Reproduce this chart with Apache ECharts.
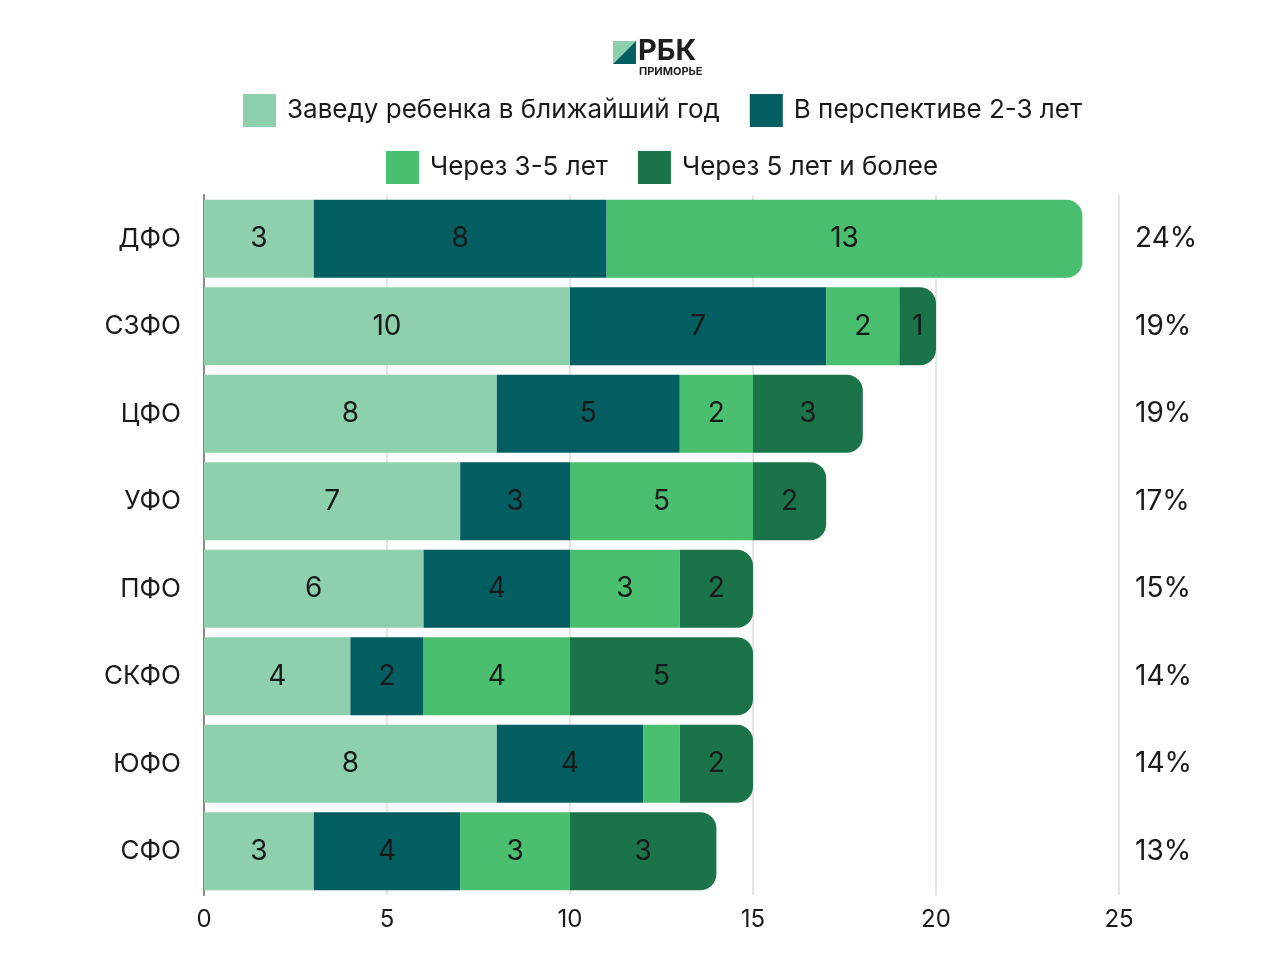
<!DOCTYPE html>
<html><head><meta charset="utf-8">
<script src="https://cdn.jsdelivr.net/npm/echarts@6/dist/echarts.min.js"></script>
<style>html,body{margin:0;padding:0;background:#fff}#c{width:1280px;height:967px}</style>
</head><body><div id="c"></div>
<script>
const categories = ['ДФО','СЗФО','ЦФО','УФО','ПФО','СКФО','ЮФО','СФО'];
const seriesNames = ['Заведу ребенка в ближайший год','В перспективе 2-3 лет','Через 3-5 лет','Через 5 лет и более'];
const nextYear = [3,10,8,7,6,4,8,3];
const in2to3 = [8,7,5,3,4,2,4,4];
const in3to5 = [13,2,2,5,3,4,1,3];
const over5 = [0,1,3,2,2,5,2,4];
const shares = ['24%','19%','19%','17%','15%','14%','14%','13%'];
const xTicks = [0,5,10,15,20,25];
const hiddenLabels = [[6,2]];          // [row, series]: segment without a printed label
const printedLabels = [[7,3,'3']];     // [row, series, text]: printed label differs from drawn length
const colors = ['#8ed0ad','#035e62','#4abf6f','#1b7449'];

const values = [nextYear, in2to3, in3to5, over5];
const catsRev = categories.slice().reverse();
const sharesRev = shares.slice().reverse();
const n = categories.length;
function lastIdx(row){ let l=-1; for(let s=0;s<4;s++){ if(values[s][row]>0) l=s; } return l; }

const series = values.map((arr, s) => ({
  name: seriesNames[s], type:'bar', stack:'t', barCategoryGap:'11%',
  itemStyle:{color:colors[s]},
  label:{show:true, position:'inside', color:'#1a1a1a', fontSize:28, fontFamily:'Inter',
         formatter:p=>{
           const row = n-1-p.dataIndex;
           const o = printedLabels.find(h=>h[0]===row&&h[1]===s);
           if (o) return o[2];
           return p.value>0?String(p.value):'';
         }},
  data: arr.slice().reverse().map((v, ri) => {
    const row = n-1-ri;
    const d = {value:v};
    if (lastIdx(row)===s) d.itemStyle = {borderRadius:[0,16,16,0]};
    if (hiddenLabels.some(h=>h[0]===row&&h[1]===s)) d.label = {show:false};
    return d;
  })
}));

const chart = echarts.init(document.getElementById('c'));
chart.setOption({
  animation:false,
  color: colors,
  textStyle:{fontFamily:'Inter'},
  legend:[
    {data:seriesNames.slice(0,2), top:89, left:238, itemWidth:33, itemHeight:33, itemGap:30, icon:'rect',
     textStyle:{fontSize:26, color:'#1a1a1a', fontFamily:'Inter', padding:[0,0,0,6]}},
    {data:seriesNames.slice(2,4), top:146, left:381, itemWidth:33, itemHeight:33, itemGap:30, icon:'rect',
     textStyle:{fontSize:26, color:'#1a1a1a', fontFamily:'Inter', padding:[0,0,0,6]}}
  ],
  grid:{left:204, right:161, top:195, bottom:72},
  xAxis:{type:'value', min:0, max:25, interval:5,
    axisLine:{show:false}, axisTick:{show:false},
    splitLine:{show:true, lineStyle:{color:'#dcdcdc', width:1.5}},
    axisLabel:{fontSize:24, color:'#1a1a1a', margin:13, fontFamily:'Inter',
      formatter:v=>xTicks.includes(v)?String(v):''}},
  yAxis:[
    {type:'category', data:catsRev, axisTick:{show:false},
     axisLine:{show:true, lineStyle:{color:'#8a8a8a', width:2}},
     axisLabel:{fontSize:26, color:'#1a1a1a', margin:23, fontFamily:'Inter'}},
    {type:'category', data:sharesRev, position:'right', axisTick:{show:false}, axisLine:{show:false},
     axisLabel:{fontSize:28, color:'#1a1a1a', margin:16, fontFamily:'Inter', align:'left'}}
  ],
  graphic:[
    {type:'polygon', shape:{points:[[613,41],[636,41],[613,64]]}, style:{fill:'#8ed0ad'}},
    {type:'polygon', shape:{points:[[636,41],[636,64],[613,64]]}, style:{fill:'#035e62'}},
    {type:'text', left:638, top:37, style:{text:'РБК', font:'bold 29px Inter', fill:'#1e1e1e'}},
    {type:'text', left:639, top:66, style:{text:'ПРИМОРЬЕ', font:'bold 11px Inter', fill:'#1e1e1e'}}
  ],
  series: series
});
</script></body></html>
